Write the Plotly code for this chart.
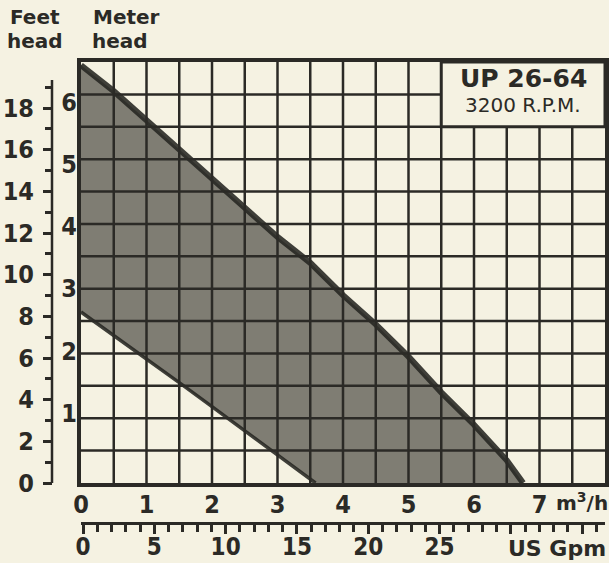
import plotly.graph_objects as go

# ---------------- data ----------------
flow_upper = [0, 0.5, 1.0, 1.5, 2.0, 2.5, 3.0, 3.5, 4.0, 4.5, 5.0, 5.5, 6.0, 6.5, 6.75]
head_upper = [6.45, 6.05, 5.6, 5.15, 4.7, 4.25, 3.8, 3.4, 2.9, 2.45, 1.95, 1.4, 0.9, 0.35, 0.0]
flow_lower = [0, 0.5, 1.0, 1.5, 2.0, 2.5, 3.0, 3.5, 3.58]
head_lower = [2.64, 2.28, 1.92, 1.55, 1.18, 0.81, 0.44, 0.07, 0.0]

m3h_labels = [0, 1, 2, 3, 4, 5, 6, 7]
gpm_labels = [0, 5, 10, 15, 20, 25]
feet_labels = [0, 2, 4, 6, 8, 10, 12, 14, 16, 18]
feet_minor = [1, 3, 5, 7, 9, 11, 13, 15, 17, 19]
meter_labels = [1, 2, 3, 4, 5, 6]

model_name = "UP 26-64"
speed_text = "3200 R.P.M."

# ---------------- style ----------------
W, H = 609, 563
L, R, T, B = 40, 4, 62, 40
PW, PH = W - L - R, H - T - B
BG = "#f5f2e2"
INK = "#2b2a26"
NUM_FONT = "Liberation Sans Narrow, DejaVu Sans Condensed, Liberation Sans"
HEAVY = "DejaVu Sans"


def pxx(x):
    return (x - L) / PW


def pxy(y):
    return (H - B - y) / PH


x_dom = [pxx(81), 1]
y_dom = [pxy(483), 1]

grid_x = [i * 0.5 for i in range(17)]
grid_y = [i * 0.5 for i in range(14)]

fig = go.Figure()

# shaded operating band
band_x = flow_upper + flow_lower[::-1]
band_y = head_upper + head_lower[::-1]
fig.add_trace(go.Scatter(
    x=band_x, y=band_y, mode="lines", fill="toself",
    fillcolor="rgba(48,47,42,0.60)", line=dict(width=0),
    hoverinfo="skip", showlegend=False))

# band edges
fig.add_trace(go.Scatter(
    x=flow_upper, y=head_upper, mode="lines",
    line=dict(color="rgba(38,37,33,0.88)", width=6),
    hoverinfo="skip", showlegend=False))
fig.add_trace(go.Scatter(
    x=flow_lower, y=head_lower, mode="lines",
    line=dict(color="rgba(38,37,33,0.88)", width=3.5),
    hoverinfo="skip", showlegend=False))

# invisible anchors for the secondary axes
fig.add_trace(go.Scatter(x=[None], y=[None], xaxis="x2", yaxis="y", showlegend=False, hoverinfo="skip"))
fig.add_trace(go.Scatter(x=[None], y=[None], xaxis="x", yaxis="y2", showlegend=False, hoverinfo="skip"))
fig.add_trace(go.Scatter(x=[None], y=[None], xaxis="x", yaxis="y3", showlegend=False, hoverinfo="skip"))

num_font = dict(family=NUM_FONT, size=25, color=INK, weight="bold")

fig.update_layout(
    width=W, height=H,
    margin=dict(l=L, r=R, t=T, b=B, autoexpand=False),
    paper_bgcolor=BG, plot_bgcolor="rgba(0,0,0,0)",
    showlegend=False,
    xaxis=dict(
        domain=x_dom, range=[0, 8], anchor="y",
        tickvals=grid_x,
        ticktext=[str(int(v)) if v in m3h_labels else "" for v in grid_x],
        ticks="", showgrid=False,
        showline=True, linecolor=INK, linewidth=3.5, mirror=True,
        zeroline=False, tickfont=num_font, ticklabelstandoff=-4,
        automargin=False, fixedrange=True),
    yaxis=dict(
        domain=y_dom, range=[0, 6.5], anchor="x",
        tickvals=grid_y, showticklabels=False,
        ticks="", showgrid=False,
        showline=True, linecolor=INK, linewidth=3.5, mirror=True,
        zeroline=False, automargin=False, fixedrange=True),
    # US gpm ruler
    xaxis2=dict(
        overlaying="x", anchor="free", position=0, side="bottom",
        range=[-0.14, 36.6],
        tickvals=[0, 5, 10, 15, 20, 25, 30, 35],
        ticktext=[str(v) if v in gpm_labels else "" for v in [0, 5, 10, 15, 20, 25, 30, 35]],
        ticks="outside", ticklen=9, tickwidth=2.5, tickcolor=INK,
        minor=dict(dtick=1, tick0=0, ticks="outside", ticklen=7, tickwidth=2.5, tickcolor=INK, showgrid=False),
        showline=True, linecolor=INK, linewidth=2.5, showgrid=False, zeroline=False,
        tickfont=dict(family=NUM_FONT, size=24, color=INK, weight="bold"),
        ticklabelstandoff=-8, automargin=False, fixedrange=True),
    # feet head scale
    yaxis2=dict(
        overlaying="y", anchor="free", position=pxx(52), side="left",
        range=[0, 421 / 20.83],
        tickvals=feet_labels, ticktext=[str(v) for v in feet_labels],
        ticks="outside", ticklen=9, tickwidth=2.5, tickcolor=INK,
        minor=dict(tickvals=feet_minor, ticks="outside", ticklen=7, tickwidth=2.5, tickcolor=INK, showgrid=False),
        showline=False, showgrid=False, zeroline=False,
        tickfont=num_font, ticklabelstandoff=4, automargin=False, fixedrange=True),
    # meter head labels
    yaxis3=dict(
        overlaying="y", anchor="free", position=pxx(80), side="left",
        range=[-0.125, 6.64],
        tickvals=meter_labels, ticktext=[str(v) for v in meter_labels],
        ticks="", showline=False, showgrid=False, zeroline=False,
        tickfont=num_font, ticklabelstandoff=3, automargin=False, fixedrange=True),
)

# grid lines drawn on top of the shading (as in the printed chart)
for gx in grid_x[1:-1]:
    fig.add_shape(type="line", xref="x", yref="y domain", x0=gx, x1=gx, y0=0, y1=1,
                  line=dict(color=INK, width=2.5), layer="above")
for gy in grid_y[1:-1]:
    fig.add_shape(type="line", xref="x domain", yref="y", x0=0, x1=1, y0=gy, y1=gy,
                  line=dict(color=INK, width=2.5), layer="above")

# feet scale spine
fig.add_shape(type="line", xref="paper", yref="y2",
              x0=pxx(52), x1=pxx(52), y0=0, y1=19.35,
              line=dict(color=INK, width=2.5))

# model box
fig.add_shape(type="rect", xref="x", yref="y", x0=5.5, x1=8, y0=5.5, y1=6.5,
              fillcolor=BG, line=dict(color=INK, width=3), layer="above")
fig.add_annotation(x=6.75, y=6.24, xref="x", yref="y", text=model_name, showarrow=False,
                   font=dict(family=HEAVY, size=25, color=INK, weight="bold"))
fig.add_annotation(x=6.75, y=5.84, xref="x", yref="y", text=speed_text, showarrow=False,
                   font=dict(family=HEAVY, size=20, color=INK))

title_font = dict(family=HEAVY, size=20, color=INK, weight="bold")
for txt, xc, yc, anchor in [("Feet", 35, 30, "bottom"), ("head", 35, 28, "top"),
                            ("Meter", 126, 30, "bottom"), ("head", 120, 28, "top")]:
    fig.add_annotation(x=pxx(xc), y=pxy(yc), xref="paper", yref="paper", text=txt,
                       showarrow=False, xanchor="center", yanchor=anchor, font=title_font,
                       borderpad=0)

fig.add_annotation(x=pxx(582), y=pxy(502), xref="paper", yref="paper", text="m<sup>3</sup>/h",
                   showarrow=False, xanchor="center", yanchor="middle",
                   font=dict(family=HEAVY, size=20, color=INK, weight="bold"))
fig.add_annotation(x=pxx(557), y=pxy(548), xref="paper", yref="paper", text="US Gpm",
                   showarrow=False, xanchor="center", yanchor="middle",
                   font=dict(family=HEAVY, size=22, color=INK, weight="bold"))

fig.write_html("out.html", config={"displayModeBar": False},
               post_script="document.body.style.margin='0px';")
